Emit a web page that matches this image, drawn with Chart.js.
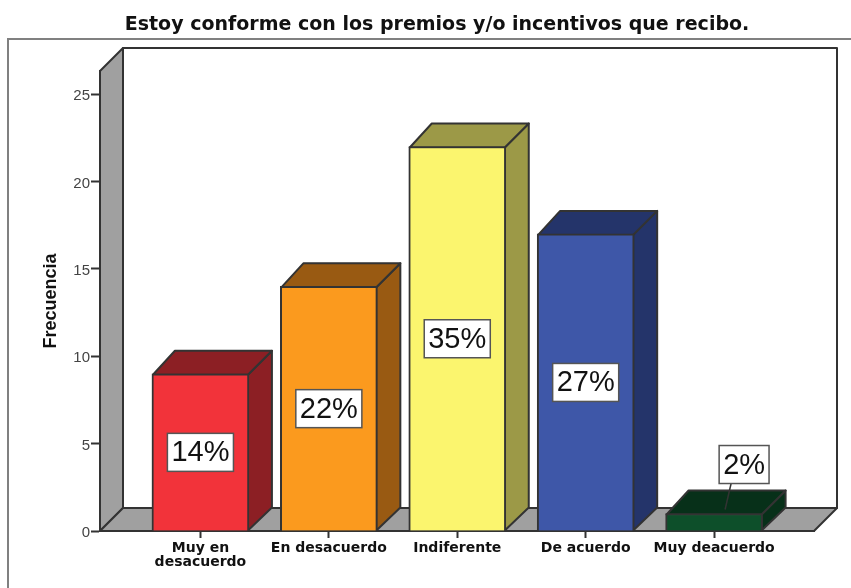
<!DOCTYPE html>
<html>
<head>
<meta charset="utf-8">
<title>Estoy conforme</title>
<script src="https://cdn.jsdelivr.net/npm/chart.js@4"></script>
<style>
    body { margin: 0; background: #fff; }
    canvas { display: block; filter: blur(0.4px); }
</style>
</head>
<body>
<canvas id="chart" width="851" height="588"></canvas>
<script>
// Data
const categories = [['Muy en', 'desacuerdo'], 'En desacuerdo', 'Indiferente', 'De acuerdo', 'Muy deacuerdo'];
const frequencies = [9, 14, 22, 17, 1];
const percentLabels = ['14%', '22%', '35%', '27%', '2%'];

// Colours
const frontColors = ['#f2333a', '#fb9a1e', '#fbf56e', '#3e57a8', '#0d4f2a'];
const sideColors = ['#8c1f24', '#995a12', '#9c9947', '#24346a', '#073019'];
const wallColor = '#a0a0a0';
const lineColor = '#333333';
const depth = 23;

function poly(ctx, pts, fill) {
    ctx.beginPath();
    pts.forEach((p, i) => i ? ctx.lineTo(p[0], p[1]) : ctx.moveTo(p[0], p[1]));
    ctx.closePath();
    ctx.fillStyle = fill;
    ctx.fill();
    ctx.stroke();
}

// Frame and the 3D walls behind the axes
const walls = {
    id: 'walls',
    beforeDraw(chart) {
        const { ctx, chartArea: a } = chart;
        ctx.save();
        ctx.strokeStyle = '#808080';
        ctx.lineWidth = 2;
        ctx.beginPath();
        ctx.moveTo(8, 588);
        ctx.lineTo(8, 39);
        ctx.lineTo(851, 39);
        ctx.stroke();

        ctx.strokeStyle = lineColor;
        ctx.lineJoin = 'round';
        poly(ctx, [[a.left + depth, a.top - depth], [a.right + depth, a.top - depth], [a.right + depth, a.bottom - depth], [a.left + depth, a.bottom - depth]], '#fff');
        poly(ctx, [[a.left, a.top], [a.left + depth, a.top - depth], [a.left + depth, a.bottom - depth], [a.left, a.bottom]], wallColor);
        poly(ctx, [[a.left, a.bottom], [a.left + depth, a.bottom - depth], [a.right + depth, a.bottom - depth], [a.right, a.bottom]], wallColor);
        ctx.restore();
    },
    // side and top faces of the bars
    beforeDatasetsDraw(chart) {
        const { ctx } = chart;
        ctx.save();
        ctx.strokeStyle = lineColor;
        ctx.lineWidth = 2;
        ctx.lineJoin = 'round';
        chart.getDatasetMeta(0).data.forEach((bar, i) => {
            const { x, y, base, width } = bar.getProps(['x', 'y', 'base', 'width'], true);
            const l = x - width / 2, r = x + width / 2;
            poly(ctx, [[r - 1, y + 1], [r + depth, y - depth], [r + depth, base - depth], [r - 1, base]], sideColors[i]);
            poly(ctx, [[l + 1, y + 1], [l + depth, y - depth], [r + depth, y - depth], [r - 1, y + 1]], sideColors[i]);
        });
        ctx.restore();
    }
};

// Percent boxes on the bars
const percentBoxes = {
    id: 'percentBoxes',
    afterDatasetsDraw(chart) {
        const { ctx, scales } = chart;
        ctx.save();
        ctx.font = '29px "Liberation Sans"';
        ctx.textAlign = 'center';
        ctx.textBaseline = 'middle';
        chart.getDatasetMeta(0).data.forEach((bar, i) => {
            const { x, y } = bar.getProps(['x', 'y'], true);
            const w = ctx.measureText(percentLabels[i]).width + 8;
            const h = 38;
            let cx = x, cy = scales.y.getPixelForValue(frequencies[i] / 2);
            // too small to hold the box, put it above with a leader line
            if (frequencies[i] < 3) {
                cx = x + 30;
                cy = y - 49;
                ctx.strokeStyle = lineColor;
                ctx.lineWidth = 1.5;
                ctx.beginPath();
                ctx.moveTo(x + 17, cy + h / 2);
                ctx.lineTo(x + 11, y - 4);
                ctx.stroke();
            }
            ctx.fillStyle = '#fff';
            ctx.strokeStyle = '#555';
            ctx.lineWidth = 1.5;
            ctx.fillRect(cx - w / 2, cy - h / 2, w, h);
            ctx.strokeRect(cx - w / 2, cy - h / 2, w, h);
            ctx.fillStyle = '#111';
            ctx.fillText(percentLabels[i], cx, cy + 1);
        });
        ctx.restore();
    }
};

new Chart(document.getElementById('chart'), {
    type: 'bar',
    data: {
        datasets: [{
            data: frequencies.map((v, i) => ({ x: i, y: v })),
            backgroundColor: frontColors,
            borderColor: lineColor,
            borderWidth: 2,
            barThickness: 97
        }]
    },
    options: {
        responsive: false,
        animation: false,
        layout: { padding: { left: 23, right: 0, top: 0, bottom: 0 } },
        plugins: {
            legend: { display: false },
            tooltip: { enabled: false },
            title: {
                display: true,
                text: 'Estoy conforme con los premios y/o incentivos que recibo.',
                color: '#111',
                font: { family: '"DejaVu Sans"', size: 19, weight: 'bold' },
                padding: { top: 14, bottom: 34.2 }
            }
        },
        scales: {
            x: {
                type: 'linear',
                offset: false,
                min: -0.782,
                max: 4.778,
                afterFit: s => { s.height = 57; },
                border: { color: lineColor, width: 2 },
                grid: { offset: false, drawOnChartArea: false, tickLength: 7, tickColor: lineColor, tickWidth: 2 },
                ticks: {
                    stepSize: 1,
                    includeBounds: false,
                    autoSkip: false,
                    maxRotation: 0,
                    padding: 3,
                    color: '#111',
                    font: { family: '"DejaVu Sans"', size: 14, weight: 'bold', lineHeight: 1 },
                    callback: v => categories[v]
                }
            },
            y: {
                min: 0,
                max: 26.32,
                afterFit: s => { s.width = 77; },
                border: { color: lineColor, width: 2 },
                grid: { drawOnChartArea: false, tickLength: 9, tickColor: lineColor, tickWidth: 2 },
                ticks: {
                    stepSize: 5,
                    includeBounds: false,
                    padding: 1,
                    labelOffset: 2,
                    color: '#444',
                    font: { family: '"Liberation Sans"', size: 15 }
                },
                title: {
                    display: true,
                    text: 'Frecuencia',
                    color: '#111',
                    padding: { top: 17, bottom: 0 },
                    font: { family: '"Liberation Sans"', size: 18, weight: 'bold' }
                }
            },
            // keeps the right margin out of the plot without moving the title
            spacer: {
                type: 'linear',
                position: 'right',
                afterFit: s => { s.width = 37; },
                border: { display: false },
                grid: { display: false },
                ticks: { display: false }
            }
        }
    },
    plugins: [walls, percentBoxes]
});
</script>
</body>
</html>
